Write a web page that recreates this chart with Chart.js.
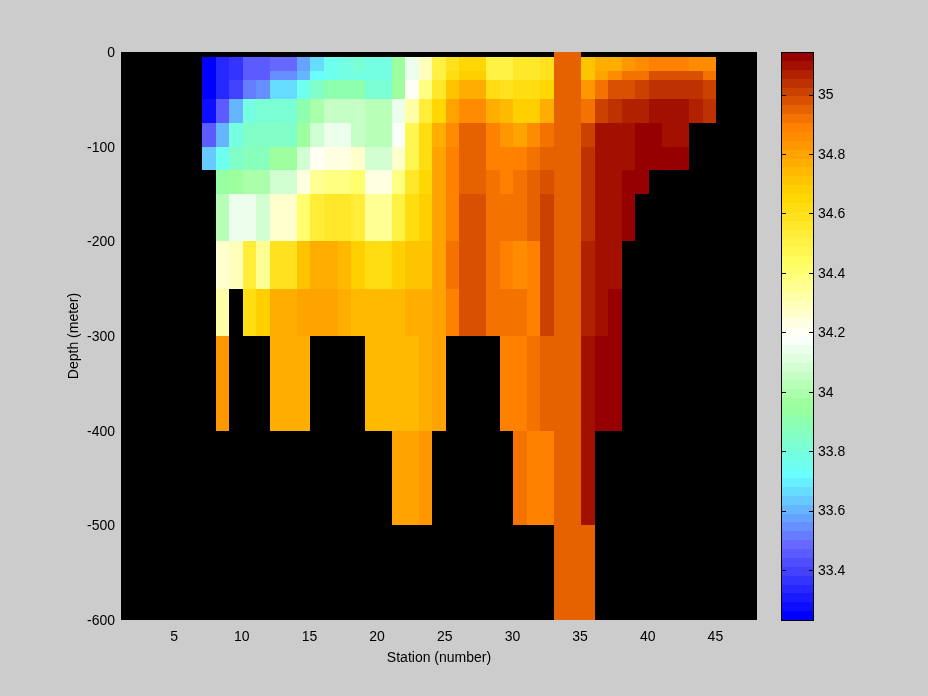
<!DOCTYPE html>
<html>
<head>
<meta charset="utf-8">
<style>
html,body{margin:0;padding:0;background:#cccccc;overflow:hidden}
canvas{position:absolute;left:0;top:0}
</style>
<script src="https://cdn.jsdelivr.net/npm/chart.js@4"></script>
</head>
<body>
<canvas id="main" width="928" height="696"></canvas>
<canvas id="bar" width="928" height="696"></canvas>
<script>
const _ = null;
const firstStation = 7;
const depthEdges = [0,-5,-20,-30,-50,-75,-100,-125,-150,-200,-250,-300,-400,-500,-600];
const xTicks = [5,10,15,20,25,30,35,40,45];
const yTicks = [0,-100,-200,-300,-400,-500,-600];
const cbTicks = [33.4,33.6,33.8,34,34.2,34.4,34.6,34.8,35];
const cMin = 33.232, cMax = 35.143, levels = 64;
const anchors = [[0,0,255],[102,102,255],[102,255,255],[153,255,153],[255,255,255],[255,255,102],[255,215,0],[255,128,0],[150,0,0]];

// salinity per station (7..44) for each depth layer
const s0_5     = [_,_,_,_,_,_,_,_,_,_,_,_,_,_,_,_,_,_,_,_,_,_,_,_,_,_,34.95,34.95,_,_,_,_,_,_,_,_,_,_];
const s5_20    = [33.25,33.34,33.37,33.46,33.46,33.49,33.49,33.58,33.67,33.76,33.79,33.82,33.79,33.79,33.96,34.14,34.29,34.50,34.59,34.65,34.65,34.50,34.50,34.56,34.56,34.59,34.95,34.95,34.71,34.77,34.77,34.83,34.86,34.89,34.89,34.89,34.86,34.86];
const s20_30   = [33.25,33.34,33.37,33.46,33.46,33.55,33.55,33.61,33.73,33.76,33.79,33.79,33.79,33.79,33.96,34.14,34.29,34.50,34.62,34.68,34.68,34.50,34.50,34.56,34.56,34.59,34.95,34.95,34.71,34.80,34.86,34.92,34.92,34.98,34.98,34.98,34.98,34.92];
const s30_50   = [33.25,33.34,33.40,33.52,33.55,33.67,33.67,33.76,33.84,33.90,33.90,33.90,33.82,33.82,33.96,34.20,34.38,34.56,34.71,34.77,34.77,34.62,34.59,34.62,34.62,34.65,34.95,34.95,34.83,34.92,34.98,34.98,35.01,35.04,35.04,35.04,35.04,35.01];
const s50_75   = [33.28,33.46,33.61,33.79,33.82,33.82,33.82,33.90,33.99,34.05,34.05,34.05,34.02,34.02,34.14,34.32,34.53,34.65,34.80,34.86,34.86,34.77,34.74,34.68,34.68,34.77,34.95,34.95,34.92,35.01,35.04,35.07,35.07,35.10,35.10,35.10,35.07,35.04];
const s75_100  = [33.46,33.61,33.79,33.84,33.84,33.84,33.84,33.96,34.08,34.14,34.14,34.05,34.02,34.02,34.17,34.47,34.62,34.77,34.86,34.95,34.95,34.89,34.83,34.80,34.86,34.92,34.95,34.95,35.01,35.10,35.10,35.10,35.13,35.13,35.10,35.10,_,_];
const s100_125 = [33.64,33.76,33.84,33.87,33.87,33.96,33.96,34.08,34.20,34.23,34.23,34.26,34.08,34.08,34.26,34.47,34.62,34.80,34.89,34.95,34.95,34.89,34.89,34.89,34.92,34.95,34.95,34.95,35.04,35.10,35.10,35.10,35.13,35.13,35.13,35.13,_,_];
const s125_150 = [_,33.93,33.96,33.99,33.99,34.08,34.08,34.23,34.35,34.38,34.38,34.41,34.23,34.23,34.38,34.56,34.65,34.80,34.89,34.95,34.95,34.92,34.89,34.92,34.95,34.98,34.95,34.95,35.04,35.10,35.10,35.13,35.13,_,_,_,_,_];
const s150_200 = [_,34.02,34.14,34.14,34.08,34.26,34.26,34.41,34.53,34.56,34.56,34.53,34.35,34.35,34.50,34.62,34.68,34.80,34.89,34.98,34.98,34.92,34.92,34.92,34.95,35.01,34.95,34.95,35.04,35.10,35.10,35.13,_,_,_,_,_,_];
const s200_250 = [_,34.26,34.29,34.53,34.35,34.59,34.59,34.71,34.77,34.77,34.74,34.68,34.62,34.62,34.68,34.71,34.71,34.80,34.92,34.98,34.98,34.92,34.89,34.86,34.89,35.01,34.95,34.95,35.07,35.10,35.10,_,_,_,_,_,_,_];
const s250_300 = [_,34.32,_,34.62,34.68,34.77,34.77,34.80,34.80,34.80,34.77,34.74,34.74,34.74,34.74,34.77,34.77,34.80,34.89,34.98,34.98,34.92,34.92,34.92,34.89,35.01,34.95,34.95,35.07,35.10,35.13,_,_,_,_,_,_,_];
const s300_400 = [_,34.83,_,_,_,34.77,34.77,34.77,_,_,_,_,34.74,34.74,34.74,34.74,34.77,34.80,_,_,_,_,34.89,34.89,34.92,34.95,34.95,34.95,35.10,35.13,35.13,_,_,_,_,_,_,_];
const s400_500 = [_,_,_,_,_,_,_,_,_,_,_,_,_,_,34.80,34.80,34.83,_,_,_,_,_,_,34.92,34.89,34.89,34.95,34.95,35.10,_,_,_,_,_,_,_,_,_];
const s500_600 = [_,_,_,_,_,_,_,_,_,_,_,_,_,_,_,_,_,_,_,_,_,_,_,_,_,_,34.95,34.95,34.95,_,_,_,_,_,_,_,_,_];
const layers = [s0_5,s5_20,s20_30,s30_50,s50_75,s75_100,s100_125,s125_150,s150_200,s200_250,s250_300,s300_400,s400_500,s500_600];

function levelColor(i){
  const k = i*(anchors.length-1)/(levels-1);
  const a = Math.min(Math.floor(k),anchors.length-2), t = k-a;
  const c = anchors[a].map((v,j)=>Math.round(v+(anchors[a+1][j]-v)*t));
  return `rgb(${c[0]},${c[1]},${c[2]})`;
}
const palette = Array.from({length:levels},(_v,i)=>levelColor(i));
const step = (cMax-cMin)/levels;
function valueColor(v){
  return palette[Math.max(0,Math.min(levels-1,Math.floor((v-cMin)/step)))];
}

const FONT = {family:'"Liberation Sans", Arial, sans-serif', size:14};
Chart.defaults.color = '#000';
Chart.defaults.animation = false;

// keep cell edges on whole pixels, as the reference image has them
const snap = v => Math.round(Math.round(v*100)/100);
const snapBars = {
  id:'snapBars',
  beforeDatasetsDraw(chart){
    chart.getSortedVisibleDatasetMetas().forEach(meta=>{
      meta.data.forEach(el=>{
        if(el.horizontal){
          const t=snap(el.y-el.height/2), b=snap(el.y+el.height/2);
          el.y=(t+b)/2; el.height=b-t; el.x=snap(el.x); el.base=snap(el.base); el.width=Math.abs(el.x-el.base);
        }else{
          const l=snap(el.x-el.width/2), r=snap(el.x+el.width/2);
          el.x=(l+r)/2; el.width=r-l; el.y=snap(el.y); el.base=snap(el.base); el.height=Math.abs(el.base-el.y);
        }
      });
    });
  }
};
const blackArea = {
  id:'blackArea',
  beforeDatasetsDraw(chart){
    const a=chart.chartArea, c=chart.ctx;
    c.save(); c.fillStyle='#000'; c.fillRect(a.left,a.top,a.right-a.left,a.bottom-a.top); c.restore();
  }
};
const colorbarFrame = {
  id:'colorbarFrame',
  afterDatasetsDraw(chart){
    const a=chart.chartArea, c=chart.ctx, y=chart.scales.y;
    c.save(); c.strokeStyle='#000'; c.lineWidth=1;
    c.strokeRect(a.left+0.5,a.top+0.5,a.right-a.left-1,a.bottom-a.top);
    cbTicks.forEach(v=>{
      const p=Math.round(y.getPixelForValue(v))+0.5;
      c.beginPath();
      c.moveTo(a.left,p); c.lineTo(a.left+5,p);
      c.moveTo(a.right,p); c.lineTo(a.right-5,p);
      c.stroke();
    });
    c.restore();
  }
};

const datasets = layers.map((row,r)=>{
  const pts=[], cols=[];
  row.forEach((v,i)=>{
    if(v===null) return;
    pts.push({x:firstStation+i+0.5,y:[depthEdges[r],depthEdges[r+1]]});
    cols.push(valueColor(v));
  });
  return {data:pts,backgroundColor:cols,grouped:false,barPercentage:1,categoryPercentage:1,inflateAmount:0,borderWidth:0};
});

new Chart(document.getElementById('main'),{
  type:'bar',
  data:{datasets},
  plugins:[blackArea,snapBars],
  options:{
    responsive:false,
    layout:{padding:{left:0,top:52,right:171,bottom:0}},
    plugins:{legend:{display:false},tooltip:{enabled:false}},
    scales:{
      x:{type:'linear',min:1,max:48,offset:false,
        grid:{display:false,drawTicks:false},border:{display:false},
        afterBuildTicks:s=>{s.ticks=xTicks.map(v=>({value:v}));},
        afterFit:s=>{s.height=76;},
        ticks:{font:FONT,color:'#000',padding:9,labelOffset:-1,maxRotation:0,autoSkip:false},
        title:{display:true,text:'Station (number)',font:FONT,color:'#000',padding:{top:0,bottom:29}}},
      y:{type:'linear',min:-600,max:0,
        grid:{display:false,drawTicks:false},border:{display:false},
        afterBuildTicks:s=>{s.ticks=yTicks.map(v=>({value:v}));},
        afterFit:s=>{s.width=121;},
        ticks:{font:FONT,color:'#000',padding:6,labelOffset:1,autoSkip:false},
        title:{display:true,text:'Depth (meter)',font:FONT,color:'#000',padding:{top:66,bottom:0}}}
    }
  }
});

const barPoints = palette.map((_c,i)=>({x:[0,1],y:cMin+(i+0.5)*step}));
new Chart(document.getElementById('bar'),{
  type:'bar',
  data:{datasets:[{data:barPoints,backgroundColor:palette,barPercentage:1,categoryPercentage:1,inflateAmount:0,borderWidth:0}]},
  plugins:[snapBars,colorbarFrame],
  options:{
    responsive:false,
    indexAxis:'y',
    layout:{padding:{left:781,top:52,right:0,bottom:76}},
    plugins:{legend:{display:false},tooltip:{enabled:false}},
    scales:{
      x:{type:'linear',min:0,max:1,display:false},
      y:{type:'linear',position:'right',min:cMin,max:cMax,offset:false,
        grid:{display:false,drawTicks:false},border:{display:false},
        afterBuildTicks:s=>{s.ticks=cbTicks.map(v=>({value:v}));},
        afterFit:s=>{s.width=114;},
        ticks:{font:FONT,color:'#000',padding:4,labelOffset:1,autoSkip:false,callback:v=>String(v)}}
    }
  }
});
</script>
</body>
</html>
